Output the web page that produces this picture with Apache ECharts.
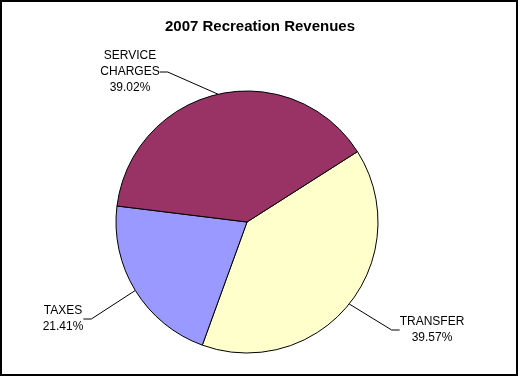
<!DOCTYPE html>
<html>
<head>
<meta charset="utf-8">
<script src="https://cdn.jsdelivr.net/npm/echarts@6/dist/echarts.min.js"></script>
<style>
  html, body { margin: 0; padding: 0; background: #fff; }
  #chart { width: 520px; height: 377px; }
</style>
</head>
<body>
<div id="chart"></div>
<script>
// data, clockwise from the TRANSFER slice
var names = ['TRANSFER', 'TAXES', 'SERVICE CHARGES'];
var shares = [39.57, 21.41, 39.02];
var colors = ['#FFFFCC', '#9999FF', '#993366'];

// where each label sits (center of text block)
var labelPos = [[432, 330], [63, 319], [130, 72]];

var myChart = echarts.init(document.getElementById('chart'));

var d = [];
for (var i = 0; i < names.length; i++) {
  d.push({ name: names[i], value: shares[i], itemStyle: { color: colors[i] } });
}

var option = {
  backgroundColor: '#fff',
  animation: false,
  title: {
    text: '2007 Recreation Revenues',
    left: 'center',
    top: 14,
    textStyle: {
      fontFamily: 'Liberation Sans',
      fontSize: 15,
      fontWeight: 'bold',
      color: '#000'
    }
  },
  graphic: [{
    type: 'rect',
    shape: { x: 1, y: 1, width: 516, height: 374 },
    style: { fill: null, stroke: '#000', lineWidth: 2 },
    silent: true
  }],
  series: [{
    type: 'pie',
    center: [247, 222],
    radius: 131,
    startAngle: 32.5,
    clockwise: true,
    itemStyle: { borderColor: '#000', borderWidth: 1 },
    label: {
      show: true,
      position: 'outside',
      fontFamily: 'Liberation Sans',
      fontSize: 12,
      lineHeight: 16,
      color: '#000',
      align: 'center',
      formatter: function (p) {
        return p.name.replace(' ', '\n') + '\n' + p.value.toFixed(2) + '%';
      }
    },
    labelLine: {
      show: true,
      length: 10,
      length2: 8,
      lineStyle: { color: '#000', width: 1 }
    },
    labelLayout: function (params) {
      var pos = labelPos[params.dataIndex];
      return { x: pos[0], y: pos[1], align: 'center', verticalAlign: 'middle' };
    },
    emphasis: { disabled: true },
    data: d
  }]
};
myChart.setOption(option);
</script>
</body>
</html>
